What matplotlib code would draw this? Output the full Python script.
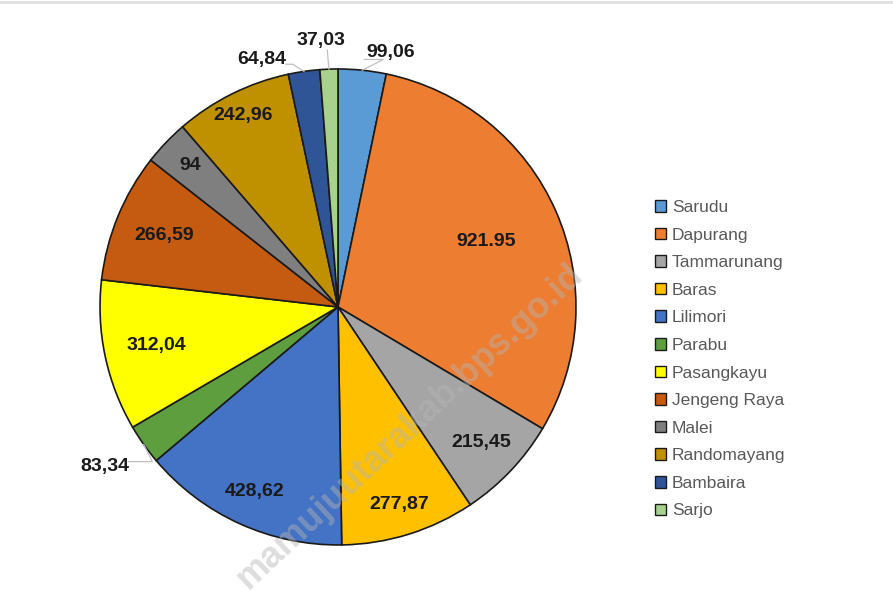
import numpy as np
import matplotlib
matplotlib.use("Agg")
import matplotlib.pyplot as plt
from matplotlib.patches import Patch
from matplotlib.lines import Line2D

# data kecamatan
kecamatan = ["Sarudu", "Dapurang", "Tammarunang", "Baras", "Lilimori", "Parabu",
             "Pasangkayu", "Jengeng Raya", "Malei", "Randomayang", "Bambaira", "Sarjo"]
nilai = [99.06, 921.95, 215.45, 277.87, 428.62, 83.34,
         312.04, 266.59, 94, 242.96, 64.84, 37.03]
label_nilai = ["99,06", "921.95", "215,45", "277,87", "428,62", "83,34",
               "312,04", "266,59", "94", "242,96", "64,84", "37,03"]

warna = ["#5B9BD5", "#ED7D31", "#A5A5A5", "#FFC000", "#4472C4", "#5E9E3E",
         "#FFFF00", "#C55A11", "#7F7F7F", "#BF9000", "#2F5597", "#A9D18E"]

plt.rcParams["font.family"] = ["Liberation Sans", "DejaVu Sans"]

fig = plt.figure(figsize=(8.93, 6.06), dpi=100)
ax = fig.add_axes([0.112, 0.1007, 0.533, 0.7855])

wedges, _ = ax.pie(nilai, colors=warna, startangle=90, counterclock=False,
                   radius=1.0,
                   wedgeprops=dict(edgecolor="#1a1a1a", linewidth=1.2))
ax.set_xlim(-1, 1)
ax.set_ylim(-1, 1)
ax.set_aspect("equal")
ax.axis("off")

# posisi label di dalam irisan (jarak dari pusat)
jarak_dalam = {1: 0.68, 2: 0.83, 3: 0.87, 4: 0.85, 6: 0.78, 7: 0.79, 8: 0.86, 9: 0.9}
# label di luar: posisi teks, titik tekuk, ujung garis
luar = {
    0: ((0.22, 1.07), (0.19, 1.04), (0.11, 1.04)),
    5: ((-0.98, -0.67), (-0.78, -0.65), (-0.88, -0.65)),
    10: ((-0.32, 1.04), (-0.19, 1.02), (-0.22, 1.02)),
    11: ((-0.07, 1.12), (-0.045, 1.08), (-0.045, 1.08)),
}

for i, w in enumerate(wedges):
    sudut = np.deg2rad((w.theta1 + w.theta2) / 2)
    cx, cy = np.cos(sudut), np.sin(sudut)
    if i in jarak_dalam:
        r = jarak_dalam[i]
        ax.text(r * cx, r * cy, label_nilai[i], ha="center", va="center",
                fontsize=14, fontweight="bold", color="#1a1a1a")
    else:
        (tx, ty), (kx, ky), (ux, uy) = luar[i]
        ax.text(tx, ty, label_nilai[i], ha="center", va="center",
                fontsize=14, fontweight="bold", color="#1a1a1a", clip_on=False)
        ax.plot([cx, kx, ux], [cy, ky, uy], color="#bfbfbf", lw=0.9,
                clip_on=False)

# legenda
handles = [Patch(facecolor=c, edgecolor="#1a1a1a", linewidth=1.0) for c in warna]
fig.legend(handles, kecamatan, loc="upper left", bbox_to_anchor=(0.733, 0.670),
           frameon=False, fontsize=12.5, labelcolor="#595959",
           handlelength=0.65, handleheight=0.65, handletextpad=0.35,
           labelspacing=0.725, borderpad=0, borderaxespad=0)

# watermark
fig.text(0.459, 0.297, "mamujuutarakab.bps.go.id", rotation=43,
         ha="center", va="center", fontsize=26, fontweight="bold",
         color="#b5b5b5", alpha=0.45)

# garis tipis di atas
fig.add_artist(Line2D([0, 1], [0.996, 0.996], color="#e0e0e0", lw=2,
                      transform=fig.transFigure))

fig.savefig("out.png", dpi=100)
